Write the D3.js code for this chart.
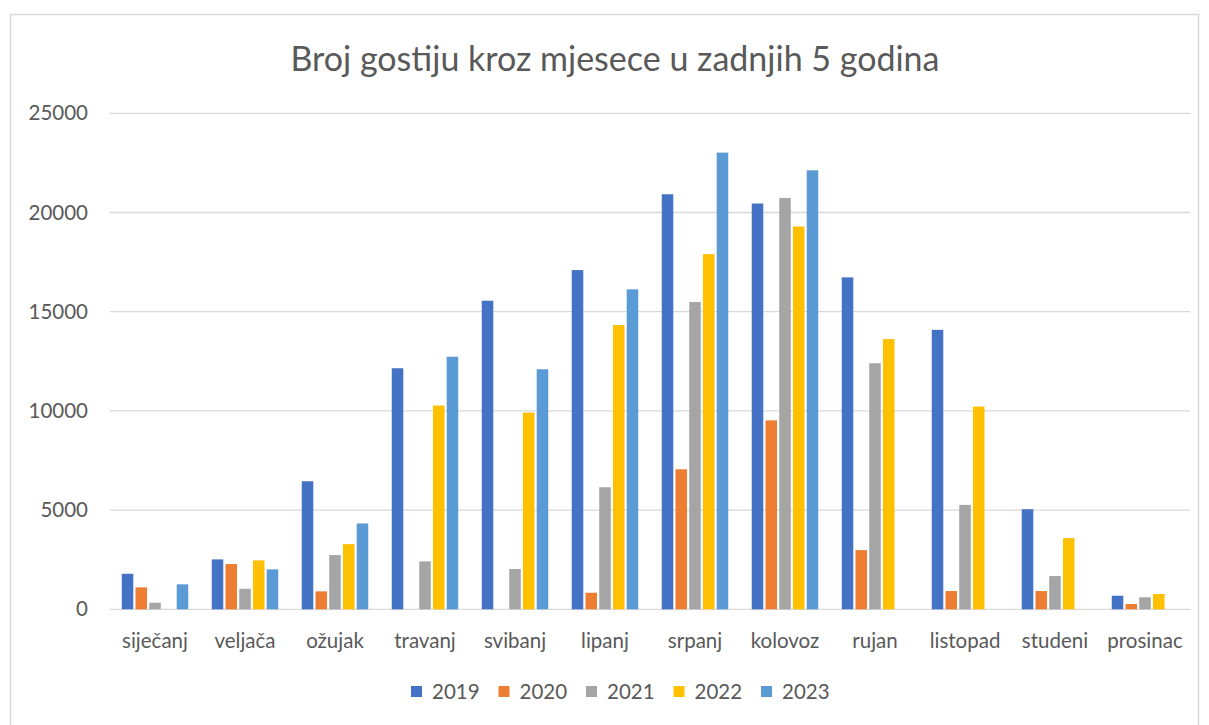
<!DOCTYPE html>
<html><head><meta charset="utf-8">
<script src="https://cdn.jsdelivr.net/npm/d3@7"></script>
<style>body{margin:0;background:#fff}svg{display:block}text{font-family:Lato,"Open Sans",sans-serif;fill:#595959}</style>
</head><body><div id="c"></div>
<script>
const months = ["siječanj","veljača","ožujak","travanj","svibanj","lipanj","srpanj","kolovoz","rujan","listopad","studeni","prosinac"];
const years = ["2019","2020","2021","2022","2023"];
const v2019 = [1790, 2515, 6454, 12150, 15553, 17098, 20920, 20453, 16730, 14085, 5045, 684];
const v2020 = [1107, 2279, 905, 0, 0, 835, 7057, 9522, 2983, 920, 920, 267];
const v2021 = [332, 1036, 2731, 2414, 2030, 6152, 15488, 20734, 12400, 5262, 1675, 604];
const v2022 = [0, 2465, 3285, 10270, 9915, 14331, 17902, 19296, 13620, 10220, 3587, 770];
const v2023 = [1258, 2012, 4326, 12730, 12098, 16127, 23018, 22128, 0, 0, 0, 0];
const yTicks = [0, 5000, 10000, 15000, 20000, 25000];
const colors = ["#4472C4","#ED7D31","#A5A5A5","#FFC000","#5B9BD5"];
const series = [v2019, v2020, v2021, v2022, v2023];

const W = 1209, H = 725;
const svg = d3.select("#c").append("svg").attr("width", W).attr("height", H);
svg.append("rect").attr("x",10.5).attr("y",14.5).attr("width",1188).attr("height",740)
  .attr("fill","#fff").attr("stroke","#d9d9d9").attr("stroke-width",1.5);

const pLeft = 110, pRight = 1190, pTop = 113.3, pBottom = 609.3;
const x0 = d3.scaleBand().domain(months).range([pLeft, pRight]).paddingInner(0.261).paddingOuter(0.1305);
const x1 = d3.scaleBand().domain(years).range([0, x0.bandwidth()]).paddingInner(0.16).paddingOuter(0);
const y = d3.scaleLinear().domain([0, 25000]).range([pBottom, pTop]);

// gridlines
svg.append("g").selectAll("line").data(yTicks).join("line")
  .attr("x1", pLeft).attr("x2", pRight).attr("y1", d=>y(d)).attr("y2", d=>y(d))
  .attr("stroke","#d9d9d9").attr("stroke-width",1.3);

// y labels
svg.append("g").selectAll("text").data(yTicks).join("text")
  .attr("x", 88).attr("y", d=>y(d)).attr("dy","0.35em").attr("text-anchor","end")
  .attr("font-size", 20.5).text(d=>d);

// bars
const g = svg.append("g");
months.forEach((m, i) => {
  const grp = g.append("g").attr("transform", `translate(${x0(m)},0)`);
  years.forEach((yr, j) => {
    const v = series[j][i];
    if (!v) return;
    grp.append("rect").attr("x", x1(yr)).attr("width", x1.bandwidth())
      .attr("y", y(v)).attr("height", y(0) - y(v))
      .attr("fill", colors[j]);
  });
});

// x labels
svg.append("g").selectAll("text").data(months).join("text")
  .attr("x", d=>x0(d)+x0.bandwidth()/2).attr("y", 648).attr("text-anchor","middle")
  .attr("font-size", 20.5).text(d=>d);

// title
svg.append("text").attr("x", 615).attr("y", 71).attr("text-anchor","middle")
  .attr("font-size", 34).text("Broj gostiju kroz mjesece u zadnjih 5 godina");

// legend
const lg = svg.append("g");
years.forEach((yr, j) => {
  const lx = 411 + j*87.5;
  lg.append("rect").attr("x", lx).attr("y", 686).attr("width", 11).attr("height", 11).attr("fill", colors[j]);
  lg.append("text").attr("x", lx + 21).attr("y", 692).attr("dy","0.35em").attr("font-size", 20.5).text(yr);
});
</script></body></html>
